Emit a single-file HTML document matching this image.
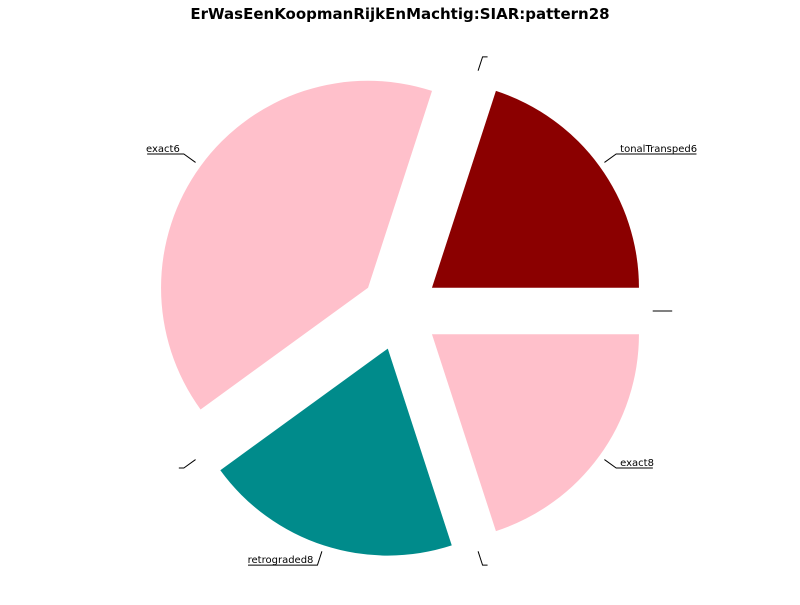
<!DOCTYPE html>
<html><head><meta charset="utf-8"><style>
body{margin:0;background:#fff}
svg text{font-family:"DejaVu Sans","Liberation Sans",sans-serif}
</style></head><body>
<svg id="chart" width="800" height="600" xmlns="http://www.w3.org/2000/svg">
<rect width="800" height="600" fill="#fff"/>
<text x="400" y="19" text-anchor="middle" font-size="15" font-weight="bold">ErWasEenKoopmanRijkEnMachtig:SIAR:pattern28</text>
<g id="slices"></g><g id="labels"></g>
</svg>
<script>
const labels = ["tonalTransped6", "", "exact6", "", "retrograded8", "", "exact8", ""];
const values = [1, 0, 2, 0, 1, 0, 1, 0];
const colors = ["#8b0000", "#fff", "#ffc0cb", "#fff", "#008b8b", "#fff", "#ffc0cb", "#fff"];

const NS = "http://www.w3.org/2000/svg";
const cx = 400, cy = 311, R = 207, EX = 39.5;
const total = values.reduce((a, b) => a + b, 0);
const sG = document.getElementById('slices'), lG = document.getElementById('labels');
let a0 = 0;
function pt(x, y, r, a) { return [x + r * Math.cos(a), y - r * Math.sin(a)]; }
values.forEach((v, i) => {
  const span = v / total * 2 * Math.PI;
  const mid = a0 + span / 2;
  const ox = cx + EX * Math.cos(mid), oy = cy - EX * Math.sin(mid);
  if (v > 0) {
    const p1 = pt(ox, oy, R, a0), p2 = pt(ox, oy, R, a0 + span);
    const path = document.createElementNS(NS, 'path');
    path.setAttribute('d', `M${ox},${oy} L${p1[0]},${p1[1]} A${R},${R} 0 ${span > Math.PI ? 1 : 0} 0 ${p2[0]},${p2[1]} Z`);
    path.setAttribute('fill', colors[i]);
    
    
    sG.appendChild(path);
  }
  const s = pt(ox, oy, R * 1.03, mid), e = pt(ox, oy, R * 1.1, mid);
  const right = Math.cos(mid) >= -1e-6;
  const tw = labels[i] ? labels[i].length * 5.45 + 4 : 5;
  const ex2 = right ? e[0] + tw : e[0] - tw;
  const pl = document.createElementNS(NS, 'polyline');
  pl.setAttribute('points', `${s[0]},${s[1]} ${e[0]},${e[1]} ${ex2},${e[1]}`);
  pl.setAttribute('fill', 'none');
  pl.setAttribute('stroke', '#000');
  pl.setAttribute('stroke-width', '1');
  
  
  lG.appendChild(pl);
  if (labels[i]) {
    const t = document.createElementNS(NS, 'text');
    t.setAttribute('x', right ? e[0] + 4 : e[0] - 4);
    t.setAttribute('y', e[1] - 2);
    t.setAttribute('font-size', '10');
    t.setAttribute('text-anchor', right ? 'start' : 'end');
    t.textContent = labels[i];
    
    
    lG.appendChild(t);
  }
  a0 += span;
});
</script>
</body></html>
